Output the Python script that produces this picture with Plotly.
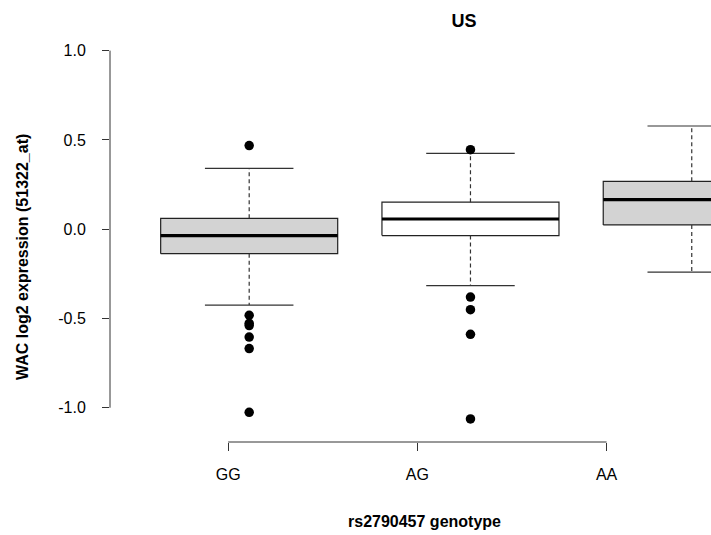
import plotly.graph_objects as go

# ---- data ----
genotypes = ["GG", "AG", "AA"]
q1 = [-0.137, -0.036, 0.024]
median = [-0.036, 0.057, 0.165]
q3 = [0.061, 0.151, 0.268]
lower_whisker = [-0.425, -0.316, -0.240]
upper_whisker = [0.341, 0.425, 0.578]
outliers = [
    [0.468, -0.482, -0.527, -0.540, -0.604, -0.669, -1.026],
    [0.445, -0.380, -0.451, -0.589, -1.063],
    [],
]
box_fill = ["#d3d3d3", "#ffffff", "#d3d3d3"]
y_tick_vals = [-1.0, -0.5, 0.0, 0.5, 1.0]
y_tick_text = ["-1.0", "-0.5", "0.0", "0.5", "1.0"]

# ---- layout constants ----
W, H = 711, 535
L, R, T, B = 110, 0, 36, 93
HALF = 0.4          # box half width (R boxwex 0.8)
STAPLE = 0.2        # staple half width
FONT = "Liberation Sans, Arial, sans-serif"
x_range = [0.371, 3.087]
y_range = [-1.192, 1.082]
# axis tick positions (the axis was drawn on a slightly different scale than the boxes)
x_tick_pos = [0.905, 1.760, 2.615]

fig = go.Figure()
for i, g in enumerate(genotypes):
    xc = i + 1
    # box
    fig.add_trace(go.Scatter(
        x=[xc - HALF, xc + HALF, xc + HALF, xc - HALF, xc - HALF],
        y=[q1[i], q1[i], q3[i], q3[i], q1[i]],
        mode="lines", fill="toself", fillcolor=box_fill[i],
        line=dict(color="#222222", width=1.2), hoverinfo="skip"))
    # whiskers (dashed)
    fig.add_trace(go.Scatter(
        x=[xc, xc, None, xc, xc],
        y=[q3[i], upper_whisker[i], None, q1[i], lower_whisker[i]],
        mode="lines", line=dict(color="#333333", width=1.2, dash="4px,3px"),
        hoverinfo="skip"))
    # staples
    fig.add_trace(go.Scatter(
        x=[xc - STAPLE, xc + STAPLE, None, xc - STAPLE, xc + STAPLE],
        y=[upper_whisker[i], upper_whisker[i], None, lower_whisker[i], lower_whisker[i]],
        mode="lines", line=dict(color="#333333", width=1.2), hoverinfo="skip"))
    # median
    fig.add_trace(go.Scatter(
        x=[xc - HALF, xc + HALF], y=[median[i], median[i]],
        mode="lines", line=dict(color="#000000", width=3.2), hoverinfo="skip"))
    # outliers
    if outliers[i]:
        fig.add_trace(go.Scatter(
            x=[xc] * len(outliers[i]), y=outliers[i], mode="markers",
            marker=dict(color="#000000", size=9.5), hoverinfo="skip"))

fig.update_layout(
    width=W, height=H, showlegend=False,
    margin=dict(l=L, r=R, t=T, b=B, pad=0),
    plot_bgcolor="white", paper_bgcolor="white",
    font=dict(family=FONT, size=16, color="#000000"),
    title=dict(text="<b>US</b>", x=464 / W, xanchor="center", xref="container",
               y=1 - 21 / H, yanchor="middle", yref="container",
               font=dict(family=FONT, size=18, color="#000000")),
)
fig.update_xaxes(range=x_range, showgrid=False, zeroline=False, showline=False,
                 tickmode="array", tickvals=x_tick_pos, ticktext=genotypes,
                 ticks="outside", ticklen=8, tickwidth=1, tickcolor="#333333",
                 ticklabelstandoff=10, tickfont=dict(size=16))
fig.update_yaxes(range=y_range, showgrid=False, zeroline=False, showline=False,
                 tickmode="array", tickvals=y_tick_vals, ticktext=y_tick_text,
                 ticks="outside", ticklen=7, tickwidth=1, tickcolor="#333333",
                 ticklabelstandoff=13, tickfont=dict(size=16))
# axis lines spanning only the tick range (R style)
fig.add_shape(type="line", xref="paper", yref="y", x0=0, x1=0, y0=-1.0, y1=1.0,
              line=dict(color="#333333", width=1))
fig.add_shape(type="line", xref="x", yref="paper", x0=x_tick_pos[0], x1=x_tick_pos[-1],
              y0=0, y1=0, line=dict(color="#333333", width=1))
# axis titles
fig.add_annotation(text="<b>rs2790457 genotype</b>", xref="paper", yref="paper",
                   x=(424 - L) / (W - L - R), y=-(521 - (H - B)) / (H - T - B),
                   xanchor="center", yanchor="middle", showarrow=False,
                   font=dict(family=FONT, size=16))
fig.add_annotation(text="<b>WAC log2 expression (51322_at)</b>", xref="paper", yref="paper",
                   x=-(L - 22) / (W - L - R), y=((H - B) - 257) / (H - T - B),
                   xanchor="center", yanchor="middle", textangle=-90, showarrow=False,
                   font=dict(family=FONT, size=16))

fig.write_html("out.html")
